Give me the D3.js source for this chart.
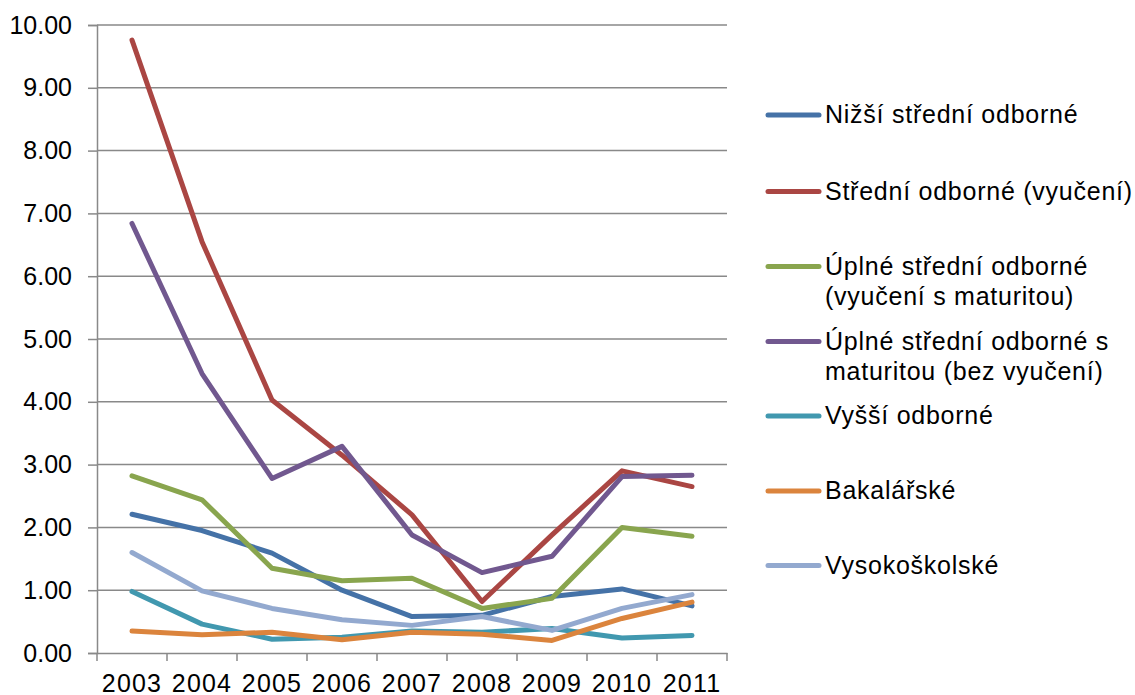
<!DOCTYPE html>
<html><head><meta charset="utf-8">
<script src="https://cdn.jsdelivr.net/npm/d3@7"></script>
<style>body{margin:0;background:#fff}svg{display:block}text{font-family:"Liberation Sans",Arial,sans-serif;fill:#000}</style>
</head><body>
<svg id="c" width="1135" height="695"></svg>
<script>
const years = ["2003","2004","2005","2006","2007","2008","2009","2010","2011"];
const yTicks = [0,1,2,3,4,5,6,7,8,9,10];
const seriesNames = [
  ["Nižší střední odborné"],
  ["Střední odborné (vyučení)"],
  ["Úplné střední odborné","(vyučení s maturitou)"],
  ["Úplné střední odborné s","maturitou (bez vyučení)"],
  ["Vyšší odborné"],
  ["Bakalářské"],
  ["Vysokoškolské"]
];
const colors = ["#4572A7","#AA4643","#89A54E","#71588F","#4198AF","#DB843D","#93A9CF"];
const nizsi    = [2.21, 1.95, 1.59, 1.00, 0.58, 0.60, 0.90, 1.02, 0.75];
const stredni  = [9.76, 6.55, 4.03, 3.15, 2.20, 0.82, 1.88, 2.90, 2.65];
const uplneVyu = [2.82, 2.44, 1.35, 1.15, 1.19, 0.71, 0.87, 2.00, 1.86];
const uplneBez = [6.84, 4.45, 2.78, 3.29, 1.88, 1.28, 1.54, 2.81, 2.83];
const vyssi    = [0.98, 0.46, 0.22, 0.25, 0.35, 0.33, 0.39, 0.24, 0.28];
const bakal    = [0.35, 0.29, 0.33, 0.21, 0.33, 0.30, 0.20, 0.55, 0.81];
const vysoko   = [1.60, 0.99, 0.71, 0.53, 0.44, 0.58, 0.36, 0.71, 0.93];
const allSeries = [nizsi, stredni, uplneVyu, uplneBez, vyssi, bakal, vysoko];

const svg = d3.select("#c");
const x = d3.scaleBand().domain(years).range([97,727]);
const y = d3.scaleLinear().domain([0,10]).range([653,25]);
const gridColor = "#898989";

// gridlines
svg.append("g").selectAll("line").data(yTicks.filter(d=>d>0)).join("line")
  .attr("x1",97).attr("x2",727).attr("y1",d=>y(d)).attr("y2",d=>y(d))
  .attr("stroke",gridColor).attr("stroke-width",1.5);

// y axis
const yAxis = svg.append("g").attr("transform","translate(97,0)")
  .call(d3.axisLeft(y).tickValues(yTicks).tickFormat(d3.format(".2f")).tickSize(9).tickPadding(16));
yAxis.select(".domain").attr("stroke",gridColor).attr("stroke-width",1.5);
yAxis.selectAll(".tick line").attr("stroke",gridColor).attr("stroke-width",1.5);
yAxis.selectAll("text").attr("font-size",25).attr("font-family","Liberation Sans, Arial, sans-serif").attr("fill","#000");

// x axis
const xAxis = svg.append("g").attr("transform","translate(0,653)")
  .call(d3.axisBottom(x).tickSize(0).tickPadding(21));
xAxis.select(".domain").attr("stroke",gridColor).attr("stroke-width",1.5);
xAxis.selectAll("text").attr("font-size",25).attr("letter-spacing","1.2px")
  .attr("font-family","Liberation Sans, Arial, sans-serif").attr("fill","#000");
// boundary ticks
const bounds = years.map(d=>x(d)).concat([x(years[years.length-1])+x.bandwidth()]);
svg.append("g").selectAll("line").data(bounds).join("line")
  .attr("x1",d=>d).attr("x2",d=>d).attr("y1",653).attr("y2",661)
  .attr("stroke",gridColor).attr("stroke-width",1.5);

// lines
const line = d3.line().x((d,i)=>x(years[i])+x.bandwidth()/2).y(d=>y(d));
svg.append("g").selectAll("path").data(allSeries).join("path")
  .attr("d",line).attr("fill","none")
  .attr("stroke",(d,i)=>colors[i]).attr("stroke-width",5)
  .attr("stroke-linejoin","round").attr("stroke-linecap","round");

// legend
const legendY = [115, 191.5, 266.5, 341.5, 416, 491, 565.5];
const lg = svg.append("g").selectAll("g").data(seriesNames).join("g")
  .attr("transform",(d,i)=>`translate(0,${legendY[i]})`);
lg.append("line").attr("x1",768).attr("x2",819).attr("y1",0).attr("y2",0)
  .attr("stroke",(d,i)=>colors[i]).attr("stroke-width",5).attr("stroke-linecap","round");
lg.each(function(d){
  const t = d3.select(this).append("text").attr("x",825).attr("y",8)
    .attr("font-size",25).attr("letter-spacing","0.75px");
  d.forEach((s,j)=>t.append("tspan").attr("x",825).attr("dy",j===0?0:30).text(s));
});
</script>
</body></html>
